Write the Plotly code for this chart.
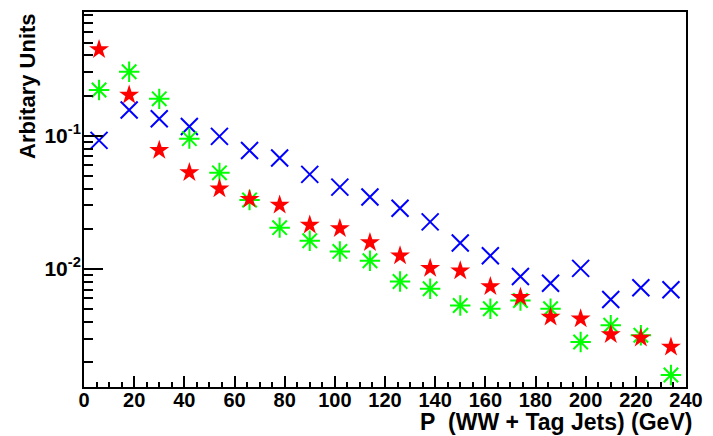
import plotly.graph_objects as go

# bin centres (GeV)
x_centres = [6, 18, 30, 42, 54, 66, 78, 90, 102, 114, 126, 138, 150, 162, 174, 186, 198, 210, 222, 234]

red_vals = [0.443, 0.202, 0.0777, 0.053, 0.0399, 0.0334, 0.0302, 0.0214, 0.0201, 0.0158,
            0.01257, 0.0101, 0.0097, 0.00738, 0.00614, 0.00435, 0.00423, 0.00322, 0.00303, 0.0026]
green_vals = [0.22, 0.302, 0.189, 0.095, 0.0526, 0.0329, 0.0204, 0.01626, 0.01353, 0.01153,
              0.00804, 0.0071, 0.00532, 0.00503, 0.0058, 0.00503, 0.00283, 0.00378, 0.00318, 0.0016]
blue_vals = [0.0922, 0.156, 0.134, 0.117, 0.0988, 0.0773, 0.068, 0.0512, 0.0411, 0.0347,
             0.0285, 0.02254, 0.01563, 0.01257, 0.00877, 0.00781, 0.0101, 0.0059, 0.00722, 0.00697]

y_major = [0.01, 0.1]
y_minor = [m * d for d in (0.001, 0.01, 0.1) for m in range(2, 10)]

x_title = "P&nbsp; (WW + Tag Jets) (GeV)"
y_title = "Arbitary Units"

FONT = "Liberation Sans, Arial, sans-serif"

fig = go.Figure()
fig.add_trace(go.Scatter(x=x_centres, y=blue_vals, mode="markers",
                         marker=dict(symbol="x-thin-open", size=17, color="#0000ff",
                                     line=dict(width=2, color="#0000ff"))))
fig.add_trace(go.Scatter(x=x_centres, y=green_vals, mode="markers",
                         marker=dict(symbol="asterisk-open", size=17, color="#00ff00",
                                     line=dict(width=2, color="#00ff00"))))
fig.add_trace(go.Scatter(x=x_centres, y=red_vals, mode="markers",
                         marker=dict(symbol="star", size=15, color="#ff0000",
                                     line=dict(width=0))))

fig.update_layout(
    width=713, height=436,
    margin=dict(l=84, r=19, t=10, b=49),
    paper_bgcolor="white", plot_bgcolor="white",
    showlegend=False,
    font=dict(family=FONT, color="black"),
    xaxis=dict(
        range=[0, 240], tick0=0, dtick=20,
        showgrid=False, zeroline=False,
        showline=True, linecolor="black", linewidth=2, mirror=True,
        ticks="inside", ticklen=11, tickwidth=2, tickcolor="black",
        minor=dict(ticks="inside", ticklen=5, tickwidth=2, tickcolor="black", dtick=5),
        tickfont=dict(family=FONT, size=20, weight="bold"),
        ticklabelstandoff=-6,
    ),
    yaxis=dict(
        type="log", range=[-2.886, -0.072],
        tickmode="array", tickvals=y_major,
        ticktext=["10<sup>-2</sup>", "10<sup>-1</sup>"],
        showgrid=False, zeroline=False,
        showline=True, linecolor="black", linewidth=2, mirror=True,
        ticks="inside", ticklen=19, tickwidth=2, tickcolor="black",
        minor=dict(ticks="inside", ticklen=9, tickwidth=2, tickcolor="black",
                   tickmode="array", tickvals=y_minor, showgrid=False),
        tickfont=dict(family=FONT, size=21, weight="bold"),
        ticklabelstandoff=-3,
    ),
    annotations=[
        dict(text=x_title, xref="paper", yref="paper", x=1.014, y=-0.093,
             xanchor="right", yanchor="middle", showarrow=False,
             font=dict(family=FONT, size=23, weight="bold")),
        dict(text=y_title, xref="paper", yref="paper", x=-0.094, y=1,
             xanchor="center", yanchor="top", textangle=-90, showarrow=False,
             font=dict(family=FONT, size=22, weight="bold")),
    ],
)

fig.write_html("out.html")
